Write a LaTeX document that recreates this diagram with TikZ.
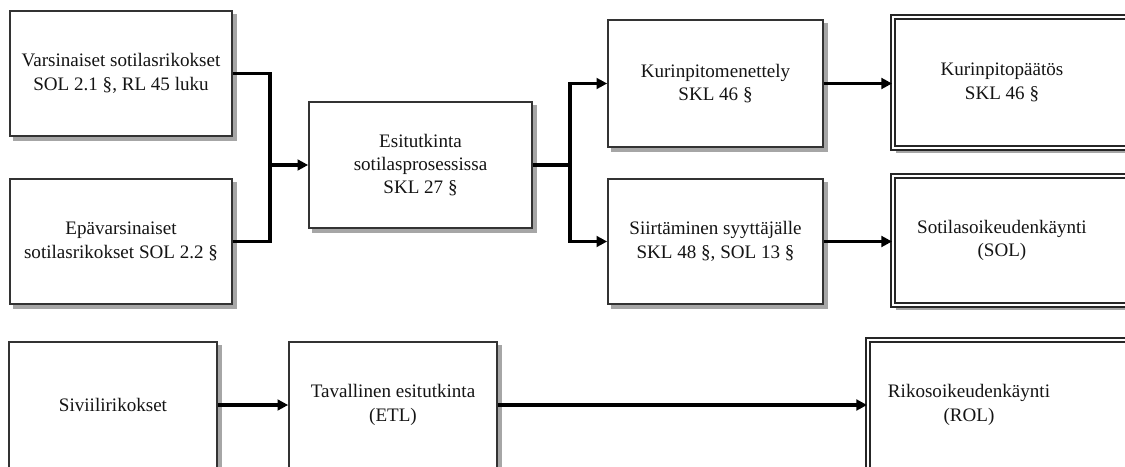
\documentclass[tikz,border=0pt]{standalone}
\usepackage{fontspec}
\setmainfont{Liberation Serif}
\usetikzlibrary{arrows.meta,backgrounds}
\begin{document}
\begin{tikzpicture}[x=0.75pt,y=-0.75pt,
  txt/.style={font=\fontsize{14.3}{17.5}\selectfont, align=center, text=black!92},
  box/.style={txt, draw=black!80, line width=1.25pt, fill=white, inner sep=0pt},
  dbox/.style={box, draw=black!85, double=white, double distance=1.2pt, line width=1.4pt},
  shade/.style={fill=black!35},
  ln/.style={line width=2.6pt, draw=black},
  arr/.style={ln, -{Triangle[length=8pt,width=8pt]}}]
\useasboundingbox (0,0) rectangle (1125,467);
\clip (0,0) rectangle (1125,467);

\node[box, minimum width=166.5pt, minimum height=93.75pt] (A) at (121,73.5) {Varsinaiset sotilasrikokset\\SOL 2.1 §, RL 45 luku};
\node[box, minimum width=166.5pt, minimum height=93.75pt] (B) at (121,241.5) {Epävarsinaiset\\sotilasrikokset SOL 2.2 §};
\node[box, minimum width=167.25pt, minimum height=94.5pt] (C) at (420.5,165) {Esitutkinta\\sotilasprosessissa\\SKL 27 §};
\node[box, minimum width=161.25pt, minimum height=95.25pt] (D) at (715.5,83.5) {Kurinpitomenettely\\SKL 46 §};
\node[box, minimum width=161.25pt, minimum height=93.75pt] (E) at (715.5,241.5) {Siirtäminen syyttäjälle\\SKL 48 §, SOL 13 §};
\node[dbox, minimum width=185.25pt, minimum height=98.25pt,
  label={[txt, xshift=-10.9pt]center:{Kurinpitopäätös\\SKL 46 §}}] (F) at (1016.5,82.5) {};
\node[dbox, minimum width=185.25pt, minimum height=96.75pt,
  label={[txt, xshift=-10.9pt]center:{Sotilasoikeudenkäynti\\(SOL)}}] (G) at (1016.5,240.5) {};
\node[box, minimum width=156pt, minimum height=94.5pt] (H) at (113,405) {Siviilirikokset};
\node[box, minimum width=156pt, minimum height=94.5pt] (I) at (393,405) {Tavallinen esitutkinta\\(ETL)};
\node[dbox, minimum width=204pt, minimum height=97.5pt,
  label={[txt, xshift=-26.25pt]center:{Rikosoikeudenkäynti\\(ROL)}}] (J) at (1004,405) {};

\begin{scope}[on background layer]
  \fill[white] (0,0) rectangle (1125,467);
  \foreach \n in {A,B,C,D,E,F,G,H,I,J}
    \fill[shade] ([shift={(4,4)}]\n.south west) rectangle ([shift={(4,4)}]\n.north east);
\end{scope}

\coordinate (j1) at (270,165);
\coordinate (j2) at (570,165);
\draw[ln] (A.east) -| (j1);
\draw[ln] (B.east) -| (j1);
\draw[arr] (j1) -- (C.west);
\draw[ln] (C.east) -- (j2);
\draw[arr] (j2) |- (D.west);
\draw[arr] (j2) |- (E.west);
\draw[arr] (D.east) -- (D.east -| F.west);
\draw[arr] (E.east) -- (E.east -| G.west);
\draw[arr] (H.east) -- (I.west);
\draw[arr] (I.east) -- (J.west);
\end{tikzpicture}
\end{document}
